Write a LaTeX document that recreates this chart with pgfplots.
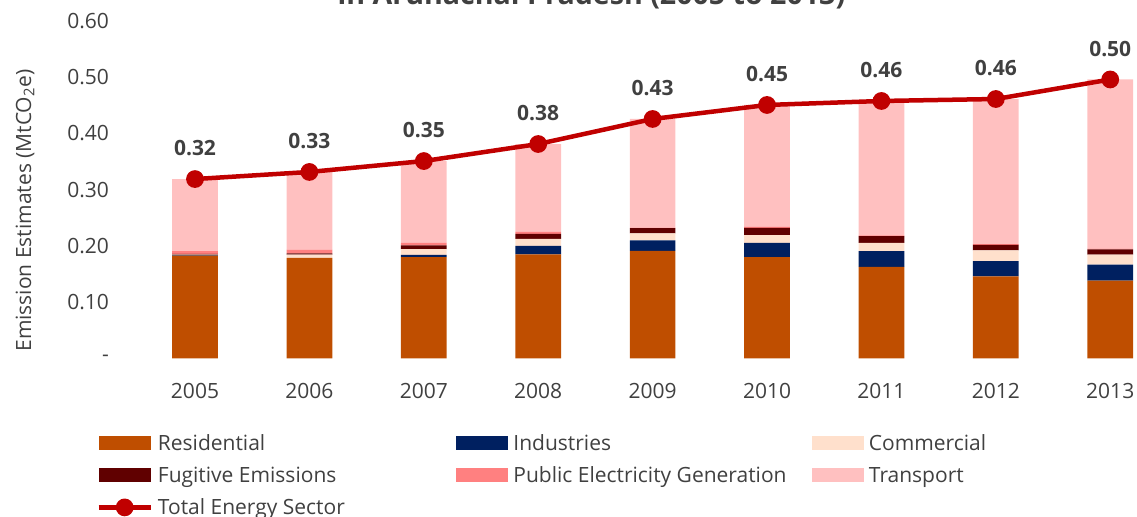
\documentclass[border=0pt]{standalone}
\usepackage{fontspec}
\setmainfont{Open Sans}
\usepackage{pgfplots}
\usepackage{pgfplotstable}
\pgfplotsset{compat=1.18}
\definecolor{cRes}{HTML}{BF4E00}
\definecolor{cInd}{HTML}{002060}
\definecolor{cCom}{HTML}{FFE0CC}
\definecolor{cFug}{HTML}{600000}
\definecolor{cPub}{HTML}{FF8080}
\definecolor{cTra}{HTML}{FFC0C0}
\definecolor{cLine}{HTML}{C00000}
\definecolor{txt}{HTML}{404040}
\pgfplotstableread{
x res ind com fug pub tra tot
0 0.1828 0.001 0.001 0.001 0.005 0.1282 0.319
1 0.1787 0.000 0.006 0.002 0.007 0.1379 0.3316
2 0.1804 0.004 0.010 0.0065 0.005 0.1451 0.351
3 0.1852 0.015 0.0125 0.009 0.004 0.1556 0.3813
4 0.1911 0.019 0.0125 0.009 0.001 0.1932 0.4258
5 0.1804 0.025 0.014 0.013 0.002 0.2163 0.4507
6 0.1627 0.028 0.015 0.012 0.001 0.2391 0.4578
7 0.1461 0.027 0.019 0.010 0.001 0.2582 0.4613
8 0.1383 0.0285 0.018 0.009 0.001 0.3012 0.496
}\data
\newcommand{\lf}{\fontsize{10.5}{12.6}\selectfont}
\newcommand{\lent}[1]{\makebox[149.25pt][l]{#1}}
\pgfplotsset{
  base/.style={
    at={(0,0)}, anchor=south west,
    scale only axis, width=499.6pt, height=168.75pt,
    xmin=-0.5, xmax=8.234, ymin=0, ymax=0.6,
    enlargelimits=false, clip=false,
  },
  barleg/.style={legend image code/.code={\fill[##1] (0pt,-3.5pt) rectangle (26pt,3.5pt);}},
  lineleg/.style={legend image code/.code={\draw[mark repeat=2,mark phase=2,##1,sharp plot] plot coordinates {(0pt,0pt) (13pt,0pt) (26pt,0pt)};}},
}
\begin{document}
\begin{tikzpicture}
\begin{axis}[base,
  ybar stacked, bar width=22.85pt,
  xtick={0,1,2,3,4,5,6,7,8},
  xticklabels={2005,2006,2007,2008,2009,2010,2011,2012,2013},
  ytick={0,0.1,0.2,0.3,0.4,0.5,0.6},
  yticklabels={{-\hspace{5.5pt}},0.10,0.20,0.30,0.40,0.50,0.60},
  axis line style={draw=none}, major tick length=0pt,
  tick label style={font=\lf, text=txt},
  xticklabel style={yshift=-8.85pt},
  yticklabel style={xshift=-10.9pt},
  legend columns=3,
  legend style={draw=none, fill=none, at={(-0.0418,-0.2104)}, anchor=north west,
    inner sep=0pt, row sep=2.5pt, column sep=0pt,
    font=\lf, text=txt,
    nodes={inner sep=0pt, text height=10.5pt, text depth=3pt},
    /tikz/every odd column/.append style={column sep=2.5pt}},
  legend cell align=left,
]
\addplot[fill=cRes, draw=none, barleg] table[x=x,y=res]{\data};
\addlegendentry{\lent{Residential}}
\addplot[fill=cInd, draw=none, barleg] table[x=x,y=ind]{\data};
\addlegendentry{\lent{Industries}}
\addplot[fill=cCom, draw=none, barleg] table[x=x,y=com]{\data};
\addlegendentry{\lent{Commercial}}
\addplot[fill=cFug, draw=none, barleg] table[x=x,y=fug]{\data};
\addlegendentry{\lent{Fugitive Emissions}}
\addplot[fill=cPub, draw=none, barleg] table[x=x,y=pub]{\data};
\addlegendentry{\lent{Public Electricity Generation}}
\addplot[fill=cTra, draw=none, barleg] table[x=x,y=tra]{\data};
\addlegendentry{\lent{Transport}}
\addlegendimage{color=cLine, line width=2.25pt, mark=*, mark size=3.3pt, lineleg}
\addlegendentry{\lent{Total Energy Sector}}
\end{axis}
\begin{axis}[base, hide axis,
  nodes near coords,
  every node near coord/.append style={font=\bfseries\lf, text=txt, yshift=7pt},
  /pgf/number format/.cd, fixed, fixed zerofill, precision=2, assume math mode=true,
]
\addplot[color=cLine, line width=2.25pt, mark=*, mark size=3.3pt] table[x=x,y=tot]{\data};
\end{axis}
\node[rotate=90, font=\lf, text=txt] at (-56.4pt,74pt) {Emission Estimates (MtCO\textsubscript{2}e)};
\node[anchor=base, font=\bfseries\fontsize{14.3}{17}\selectfont, text=txt] at (226.85pt,177pt) {in Arunachal Pradesh (2005 to 2013)};
\pgfresetboundingbox
\useasboundingbox (-68.9pt,-79.25pt) rectangle (499.6pt,179.25pt);
\end{tikzpicture}
\end{document}
